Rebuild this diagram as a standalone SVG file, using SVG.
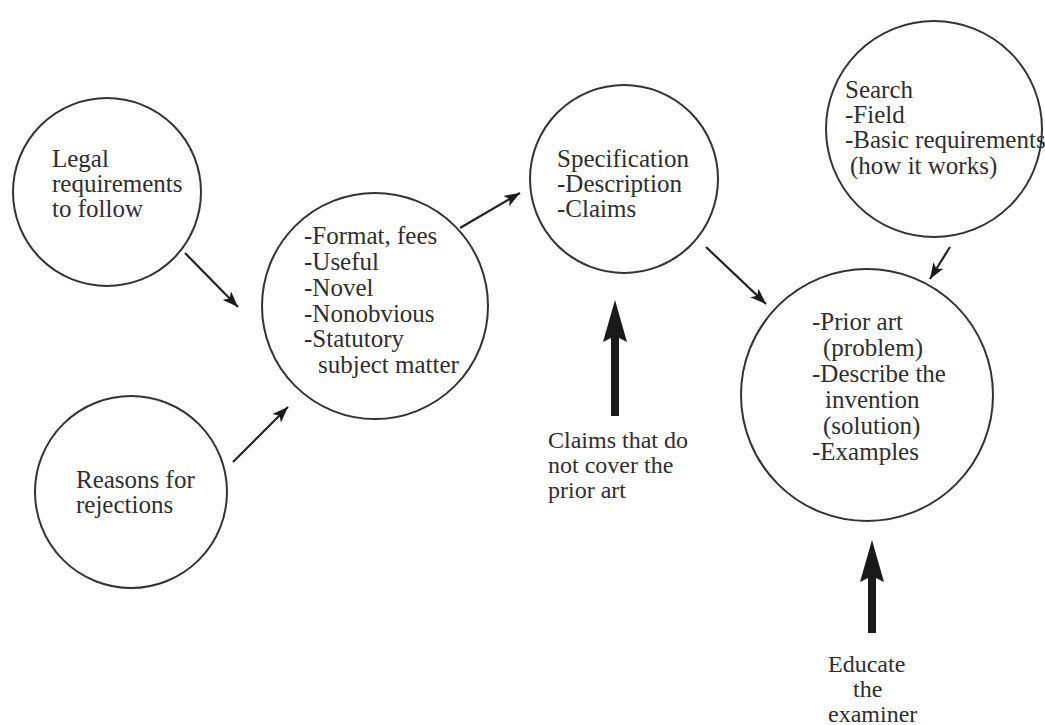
<svg xmlns="http://www.w3.org/2000/svg" width="1045" height="725" viewBox="0 0 1045 725">
<style>
.node circle{fill:none;stroke:#333;stroke-width:2}
text{font-family:"Liberation Serif","Times New Roman",serif;font-size:25px;fill:#2e2e2e}
.lbl text{font-size:24px}
.thin{stroke:#222;stroke-width:2.2;fill:none;marker-end:url(#ah)}
.thick{fill:#1a1a1a;stroke:none}
</style>
<defs>
<marker id="ah" markerUnits="userSpaceOnUse" markerWidth="18" markerHeight="12" refX="16" refY="6" orient="auto">
<path d="M0,0 L16,6 L0,12 L4,6 z" fill="#1a1a1a"/>
</marker>
</defs>
<g id="n-legal" class="node">
<circle cx="107" cy="192" r="94"/>
<text x="52" y="167">Legal</text>
<text x="52" y="192">requirements</text>
<text x="52" y="217">to follow</text>
</g>
<g id="n-reasons" class="node">
<circle cx="131" cy="492" r="96"/>
<text x="76" y="488">Reasons for</text>
<text x="76" y="513">rejections</text>
</g>
<g id="n-criteria" class="node">
<circle cx="375" cy="306" r="113"/>
<text x="304" y="244">-Format, fees</text>
<text x="304" y="270">-Useful</text>
<text x="304" y="296">-Novel</text>
<text x="304" y="322">-Nonobvious</text>
<text x="304" y="347">-Statutory</text>
<text x="318" y="373">subject matter</text>
</g>
<g id="n-spec" class="node">
<circle cx="624" cy="179" r="94"/>
<text x="557" y="167">Specification</text>
<text x="557" y="192">-Description</text>
<text x="557" y="217">-Claims</text>
</g>
<g id="n-search" class="node">
<circle cx="934" cy="129" r="108"/>
<text x="845" y="98">Search</text>
<text x="845" y="123">-Field</text>
<text x="845" y="148">-Basic requirements</text>
<text x="850" y="174">(how it works)</text>
</g>
<g id="n-prior" class="node">
<circle cx="867" cy="395" r="126"/>
<text x="812" y="330">-Prior art</text>
<text x="823" y="356">(problem)</text>
<text x="812" y="382">-Describe the</text>
<text x="825" y="408">invention</text>
<text x="823" y="434">(solution)</text>
<text x="812" y="460">-Examples</text>
</g>
<g id="l-claims" class="lbl">
<text x="548" y="448">Claims that do</text>
<text x="548" y="473">not cover the</text>
<text x="548" y="498">prior art</text>
</g>
<g id="l-educate" class="lbl">
<text x="828" y="672">Educate</text>
<text x="853" y="697">the</text>
<text x="828" y="722">examiner</text>
</g>
<g id="connectors">
<line class="thin" x1="185" y1="253" x2="238" y2="307"/>
<line class="thin" x1="233" y1="462" x2="288" y2="407"/>
<line class="thin" x1="460" y1="228" x2="520" y2="193"/>
<line class="thin" x1="706" y1="247" x2="766" y2="304"/>
<line class="thin" x1="950" y1="247" x2="930" y2="279"/>
<path class="thick" d="M615,300 L627,342 L619,338 L619,416 L611,416 L611,338 L603,342 z"/>
<path class="thick" d="M872,540 L884,582 L876,578 L876,633 L868,633 L868,578 L860,582 z"/>
</g>
</svg>
